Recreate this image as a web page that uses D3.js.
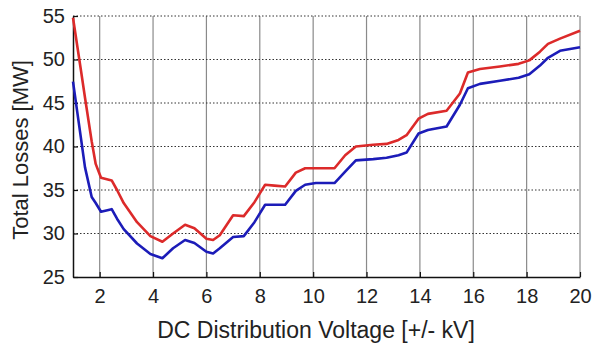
<!DOCTYPE html>
<html>
<head>
<meta charset="utf-8">
<script src="https://cdn.jsdelivr.net/npm/d3@7"></script>
<style>
  body { margin: 0; background: #fff; }
  svg text { font-family: "Liberation Sans", Arial, sans-serif; fill: #222; }
</style>
</head>
<body>
<div id="chart"></div>
<script>
/* -------------------------------------------------------------------------- */
// values
const voltage = [1.0, 1.3, 1.45, 1.7, 1.85, 2.05, 2.45, 2.65, 2.9, 3.4, 3.9, 4.35, 4.75,
  5.2, 5.55, 6.0, 6.25, 6.5, 7.0, 7.4, 7.8, 8.2, 8.55, 8.95, 9.35, 9.7, 10.1, 10.8,
  11.2, 11.6, 12.25, 12.75, 13.2, 13.5, 13.95, 14.3, 15.0, 15.5, 15.8, 16.25, 17.0,
  17.7, 18.1, 18.5, 18.8, 19.25, 20.0];

const lossesRed = [54.8, 48.7, 45.6, 40.6, 38.0, 36.4, 36.1, 35.0, 33.5, 31.3, 29.7, 29.05, 30.0,
  31.0, 30.6, 29.4, 29.25, 29.8, 32.1, 32.0, 33.6, 35.6, 35.5, 35.4, 37.0, 37.5, 37.5, 37.5,
  39.0, 40.0, 40.2, 40.3, 40.75, 41.3, 43.2, 43.75, 44.1, 46.1, 48.5, 48.9, 49.2,
  49.5, 49.9, 50.9, 51.8, 52.4, 53.3];

const lossesBlue = [47.45, 40.9, 37.6, 34.2, 33.5, 32.5, 32.8, 31.7, 30.5, 28.85, 27.65, 27.15, 28.3,
  29.25, 28.9, 27.9, 27.7, 28.3, 29.6, 29.7, 31.3, 33.3, 33.3, 33.3, 34.9, 35.6, 35.8, 35.8,
  37.1, 38.4, 38.55, 38.7, 39.0, 39.3, 41.5, 41.9, 42.3, 44.8, 46.7, 47.2, 47.55,
  47.9, 48.3, 49.3, 50.2, 51.0, 51.4];

const xTicks = [2, 4, 6, 8, 10, 12, 14, 16, 18, 20];
const yTicks = [25, 30, 35, 40, 45, 50, 55];

const xLabel = 'DC Distribution Voltage [+/- kV]';
const yLabel = 'Total Losses [MW]';

/* -------------------------------------------------------------------------- */
const width = 603, height = 346;
const margin = {top: 16, right: 23, bottom: 69, left: 73};
const w = width - margin.left - margin.right;
const h = height - margin.top - margin.bottom;

let svg = d3.select('#chart').append('svg')
  .attr('width', width).attr('height', height);

let g = svg.append('g').attr('transform', `translate(${margin.left},${margin.top})`);

let x = d3.scaleLinear().domain([1, 20]).range([0, w]);
let y = d3.scaleLinear().domain([25, 55]).range([h, 0]);

// grid: solid verticals, dotted horizontals
g.append('g')
  .selectAll('line')
  .data(xTicks)
  .enter().append('line')
    .attr('x1', d => x(d)).attr('x2', d => x(d))
    .attr('y1', 0).attr('y2', h)
    .attr('stroke', '#8a8a8a').attr('stroke-width', 1.2);

g.append('g')
  .selectAll('line')
  .data(yTicks.filter(d => d > 25))
  .enter().append('line')
    .attr('x1', 0).attr('x2', w)
    .attr('y1', d => y(d)).attr('y2', d => y(d))
    .attr('stroke', '#333').attr('stroke-width', 1)
    .attr('stroke-dasharray', '1.5,2');

// axes (ticks pointing inward)
let xAxis = g.append('g')
  .attr('transform', `translate(0,${h})`)
  .call(d3.axisBottom(x).tickValues(xTicks).tickSizeInner(-5).tickSizeOuter(0).tickPadding(12));

let yAxis = g.append('g')
  .call(d3.axisLeft(y).tickValues(yTicks).tickSizeInner(-5).tickSizeOuter(0).tickPadding(8));

[xAxis, yAxis].forEach(a => {
  a.select('.domain').attr('stroke', '#111').attr('stroke-width', 1.5);
  a.selectAll('.tick line').attr('stroke', '#111').attr('stroke-width', 1.2);
  a.selectAll('.tick text').attr('font-size', 20).attr('fill', '#222')
    .attr('font-family', '"Liberation Sans", Arial, sans-serif');
});

// curves
let line = d3.line()
  .x((d, i) => x(voltage[i]))
  .y(d => y(d));

g.append('path').datum(lossesBlue)
  .attr('fill', 'none').attr('stroke', '#1c1cb8').attr('stroke-width', 2.6)
  .attr('stroke-linejoin', 'round')
  .attr('d', line);

g.append('path').datum(lossesRed)
  .attr('fill', 'none').attr('stroke', '#dc2a2a').attr('stroke-width', 2.6)
  .attr('stroke-linejoin', 'round')
  .attr('d', line);

// labels
svg.append('text')
  .attr('x', 316).attr('y', 338)
  .attr('text-anchor', 'middle').attr('font-size', 23)
  .text(xLabel);

svg.append('text')
  .attr('transform', 'translate(28,150) rotate(-90)')
  .attr('text-anchor', 'middle').attr('font-size', 22)
  .text(yLabel);
</script>
</body>
</html>
